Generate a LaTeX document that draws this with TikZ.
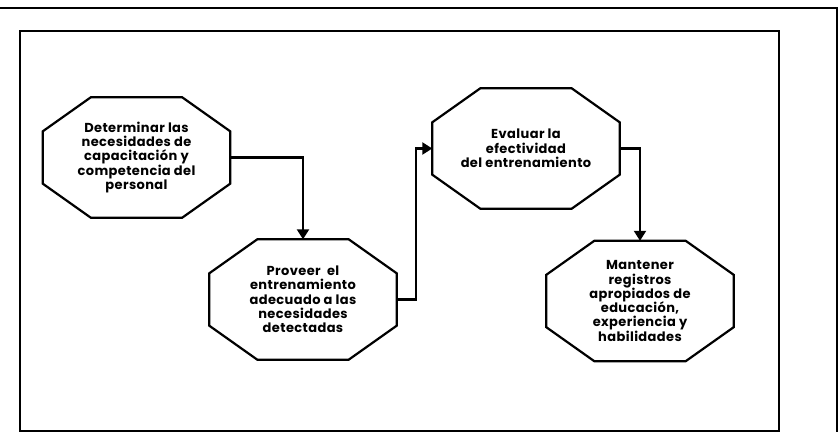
\documentclass[tikz,border=0pt]{standalone}
\usepackage{fontspec}
\setmainfont{Poppins}
\usetikzlibrary{positioning,arrows.meta}
\tikzset{
  octo/.style={rectangle, minimum width=187pt, minimum height=120pt,
    inner sep=0pt, align=center,
    font=\bfseries\fontsize{13}{14.3}\selectfont\addfontfeature{LetterSpace=3}},
  rim/.style={line width=2.2pt, line join=miter},
  link/.style={-{Triangle[length=10pt,width=12pt]}, line width=2.2pt}
}
\begin{document}
\begin{tikzpicture}[x=1pt,y=1pt]
  \useasboundingbox (0,0) rectangle (839,432);
  % marcos
  \draw[line width=1.2pt] (0,424) -- (837,424) -- (837,0);
  \draw[line width=1.8pt] (20,1) rectangle (779,401);
  % pasos
  \node[octo] (need) at (136.5,274.5)
    {Determinar las\\necesidades de\\capacitación y\\competencia del\\personal};
  \node[octo, on grid, below right=142pt and 166.5pt of need] (train)
    {Proveer\ \ el\\entrenamiento\\adecuado a las\\necesidades\\detectadas};
  \node[octo, on grid, above right=151pt and 223pt of train] (eval)
    {Evaluar la\\efectividad\\del entrenamiento};
  \node[octo, on grid, below right=152.5pt and 114pt of eval] (records)
    {Mantener\\registros\\apropiados de\\educación,\\experiencia y\\habilidades};
  % octagonos
  \foreach \n in {need,train,eval,records}
    \draw[rim] ([xshift=48pt]\n.north west) -- ([xshift=-48pt]\n.north east)
      -- ([yshift=-34pt]\n.north east) -- ([yshift=34pt]\n.south east)
      -- ([xshift=-48pt]\n.south east) -- ([xshift=48pt]\n.south west)
      -- ([yshift=34pt]\n.south west) -- ([yshift=-34pt]\n.north west) -- cycle;
  % flechas
  \draw[link] (need.east) -| (train.north);
  \draw[link] (train.east) -- ++(19,0) |- (eval.west);
  \draw[link] (eval.east) -| (records.north);
\end{tikzpicture}
\end{document}
